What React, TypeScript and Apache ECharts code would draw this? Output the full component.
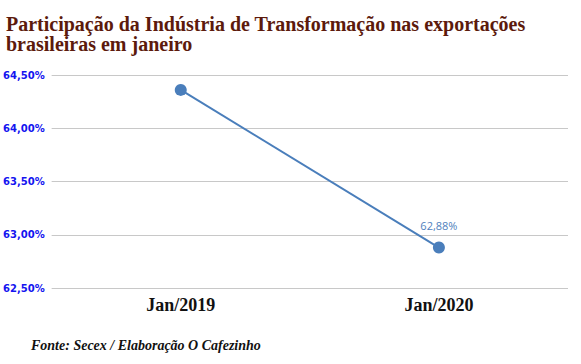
import React, { useEffect, useRef } from "react";
import * as echarts from "echarts";

const categories = ["Jan/2019", "Jan/2020"];
const values = [64.36, 62.88];
const labeledIndex = [1];

export default function App() {
  const ref = useRef<HTMLDivElement>(null);
  useEffect(() => {
    if (!ref.current) return;
    const chart = echarts.init(ref.current, null, { renderer: "svg" });
    const fmt = (v: number) => v.toFixed(2).replace(".", ",") + "%";
    chart.setOption({
      animation: false,
      backgroundColor: "#ffffff",
      title: {
        text: "Participação da Indústria de Transformação nas exportações\nbrasileiras em janeiro",
        left: 6,
        top: 14,
        padding: 0,
        textStyle: {
          fontFamily: "Liberation Serif",
          fontWeight: "bold",
          fontSize: 20,
          lineHeight: 20,
          color: "#5c1a0c",
        },
      },
      graphic: [
        {
          type: "text",
          left: 31,
          top: 338,
          style: {
            text: "Fonte: Secex / Elaboração O Cafezinho",
            fontFamily: "Liberation Serif",
            fontWeight: "bold",
            fontStyle: "italic",
            fontSize: 14,
            fill: "#111111",
          },
        },
      ],
      grid: { left: 50, right: 13, top: 75, bottom: 76 },
      xAxis: {
        type: "category",
        data: categories,
        boundaryGap: true,
        axisLine: { show: false },
        axisTick: { show: false },
        axisLabel: {
          margin: 8,
          fontFamily: "Liberation Serif",
          fontWeight: "bold",
          fontSize: 18,
          color: "#111111",
        },
      },
      yAxis: {
        type: "value",
        min: 62.5,
        max: 64.5,
        interval: 0.5,
        axisLine: { show: false },
        axisTick: { show: false },
        splitLine: { lineStyle: { color: "#c8c8c8", width: 1 } },
        axisLabel: {
          margin: 7,
          fontFamily: "DejaVu Sans",
          fontWeight: "bold",
          fontSize: 10,
          color: "#1414f0",
          formatter: (v: number) => fmt(v),
        },
      },
      series: [
        {
          type: "line",
          data: values.map((v, i) =>
            labeledIndex.includes(i)
              ? { value: v, label: { show: true } }
              : { value: v }
          ),
          symbol: "circle",
          symbolSize: 12,
          itemStyle: { color: "#4a7ebb" },
          lineStyle: { color: "#4a7ebb", width: 2 },
          label: {
            show: false,
            position: "top",
            distance: 11,
            fontFamily: "Open Sans",
            fontSize: 11,
            color: "#4f81bd",
            formatter: (p: any) => fmt(p.value),
          },
        },
      ],
    });
    return () => chart.dispose();
  }, []);
  return <div ref={ref} style={{ width: 581, height: 364, position: "absolute", left: 0, top: 0 }} />;
}
